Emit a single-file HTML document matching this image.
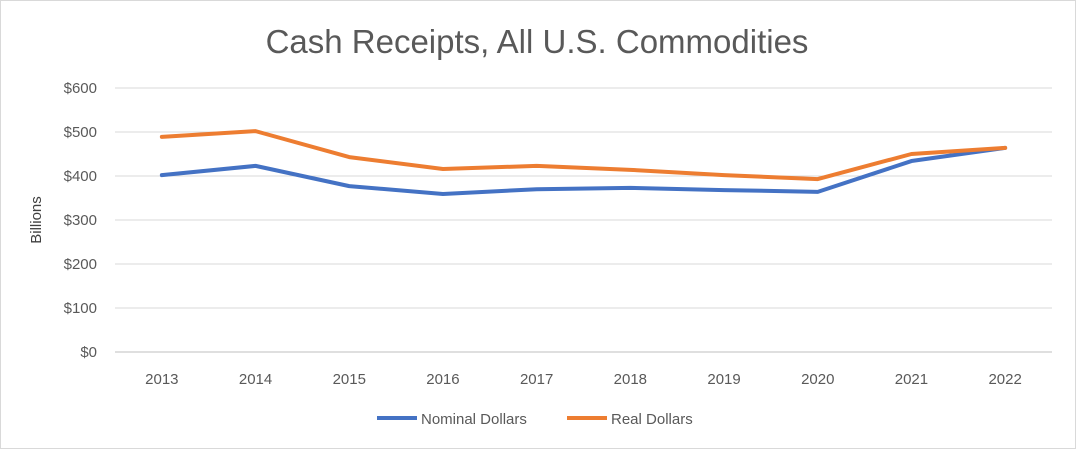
<!DOCTYPE html>
<html><head><meta charset="utf-8"><style>
body{margin:0;background:#fff;font-family:"Liberation Sans",Calibri,sans-serif}
svg{display:block}
</style></head><body>
<svg id="chart" width="1076" height="449">
<rect x="0.5" y="0.5" width="1075" height="448" fill="#fff" stroke="#d9d9d9"/>
<text x="537" y="53" text-anchor="middle" font-size="33" fill="#595959">Cash Receipts, All U.S. Commodities</text>
<text transform="translate(41,220) rotate(-90)" text-anchor="middle" font-size="15" fill="#404040">Billions</text>
<g id="grid"></g><g id="yt"></g><g id="xt"></g><g id="lines"></g>
<g>
<line x1="377" y1="418" x2="417" y2="418" stroke="#4472c4" stroke-width="4"/>
<text x="421" y="424" font-size="15" fill="#595959">Nominal Dollars</text>
<line x1="567" y1="418" x2="607" y2="418" stroke="#ed7d31" stroke-width="4"/>
<text x="611" y="424" font-size="15" fill="#595959">Real Dollars</text>
</g>
</svg>
<script>
const years=["2013","2014","2015","2016","2017","2018","2019","2020","2021","2022"];
const nominal=[402,423,377,359,370,373,368,364,434,464];
const real=[489,502,443,416,423,414,402,393,450,464];
const yTicks=[0,100,200,300,400,500,600];
const NS="http://www.w3.org/2000/svg";
const x0=115,x1=1052,yTop=88,yBot=352,yMax=600;
const step=(x1-x0)/years.length;
const xs=i=>x0+step*(i+0.5);
const ys=v=>yBot-(v/yMax)*(yBot-yTop);
function mk(tag,attrs,parent){const e=document.createElementNS(NS,tag);for(const k in attrs)e.setAttribute(k,attrs[k]);document.getElementById(parent).appendChild(e);return e;}
yTicks.forEach(t=>{
 const g=mk('line',{x1:x0,x2:x1,y1:ys(t),y2:ys(t),stroke:t===0?'#bfbfbf':'#d9d9d9','stroke-width':1},'grid');
 
 
 const l=mk('text',{x:97,y:ys(t)+5,'text-anchor':'end','font-size':15,fill:'#595959'},'yt');
 l.textContent='$'+t;
 
 
});
years.forEach((y,i)=>{
 const l=mk('text',{x:xs(i),y:384,'text-anchor':'middle','font-size':15,fill:'#595959'},'xt');
 l.textContent=y;
 
 
});
function line(arr,color,name){
 const p=mk('polyline',{points:arr.map((v,i)=>xs(i)+','+ys(v)).join(' '),fill:'none',stroke:color,'stroke-width':4,'stroke-linejoin':'round','stroke-linecap':'round'},'lines');
 
 
}
line(nominal,'#4472c4','nominal-dollars-line');
line(real,'#ed7d31','real-dollars-line');
</script>
</body></html>
